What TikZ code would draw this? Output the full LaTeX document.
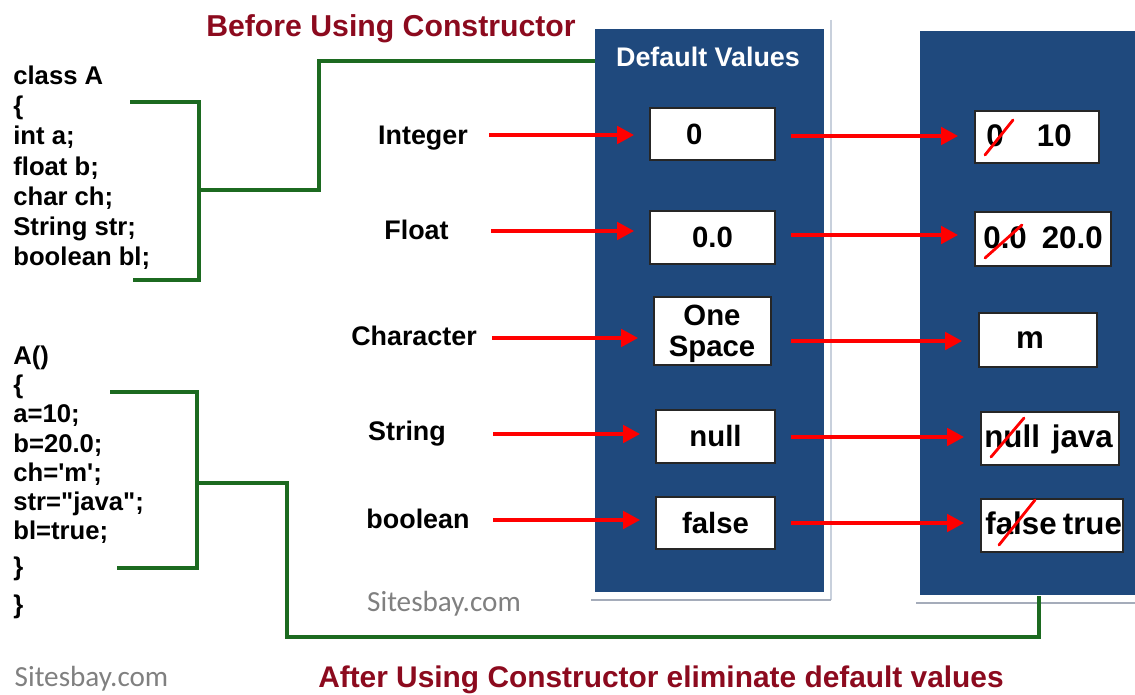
\documentclass[tikz,border=0pt]{standalone}
\usepackage{fontspec}
\setmainfont{Liberation Sans}
\newfontfamily\carl{Carlito}
\usetikzlibrary{arrows.meta}
\definecolor{boxblue}{RGB}{31,73,125}
\definecolor{lgreen}{RGB}{28,106,32}
\definecolor{tred}{RGB}{140,10,30}
\definecolor{shadeA}{RGB}{200,208,220}
\definecolor{shadeB}{RGB}{165,172,186}
\definecolor{sgray}{RGB}{128,128,128}
\tikzset{
  txt/.style={inner sep=0pt, text height=0.716em, text depth=0pt, yshift=-0.06cm},
  code/.style={txt, anchor=west, font=\bfseries\fontsize{14.6}{17}\selectfont},
  lab/.style={txt, font=\bfseries\fontsize{15.3}{18}\selectfont},
  grn/.style={draw=lgreen, line width=2.3pt},
  arr/.style={draw=red, line width=2.8pt, -{Triangle[length=0.34cm,width=0.34cm]}},
  strike/.style={draw=red, line width=1.6pt, line cap=round},
  panel/.style={fill=boxblue, draw=none, inner sep=0pt, anchor=north west},
  lbox/.style={draw=black!85, fill=white, line width=0.9pt, inner sep=0pt,
    font=\bfseries\fontsize{16.7}{17.6}\selectfont, align=center},
  rbox/.style={draw=black!85, fill=white, line width=0.9pt, inner sep=0pt},
  rval/.style={txt, anchor=west, font=\bfseries\fontsize{17.8}{20}\selectfont},
}
\begin{document}
\begin{tikzpicture}[x=0.02cm,y=-0.02cm]
\useasboundingbox (0,0) rectangle (1135,695);

% titles
\node[txt, font=\bfseries\fontsize{17.2}{20}\selectfont, text=tred] (t1) at (391,27) {Before Using Constructor};
\node[txt, font=\bfseries\fontsize{17}{20}\selectfont, text=tred] (t2) at (661,678) {After Using Constructor eliminate default values};

% code block 1
\node[code] (c1) at (13,75) {class A};
\node[code] (c2) at (13,105) {\{};
\node[code] (c3) at (13,135) {int a;};
\node[code] (c4) at (13,166) {float b;};
\node[code] (c5) at (13,196) {char ch;};
\node[code] (c6) at (13,226) {String str;};
\node[code] (c7) at (13,256) {boolean bl;};

% code block 2
\node[code] (d1) at (13,355) {A()};
\node[code] (d2) at (13,384) {\{};
\node[code] (d3) at (13,413) {a=10;};
\node[code] (d4) at (13,443) {b=20.0;};
\node[code] (d5) at (13,472) {ch=\textquotesingle m\textquotesingle;};
\node[code] (d6) at (13,501) {str=\textquotedbl java\textquotedbl;};
\node[code] (d7) at (13,530) {bl=true;};
\node[code] (d8) at (13,566) {\}};
\node[code] (d9) at (13,604) {\}};

% watermarks
\node[txt, font=\carl\fontsize{16.6}{19}\selectfont, text=sgray] (w1) at (91.5,677) {Sitesbay.com};
\node[txt, font=\carl\fontsize{16.6}{19}\selectfont, text=sgray] (w2) at (444,602) {Sitesbay.com};

% panel shadows
\draw[shadeA, line width=1.4pt] (831,20) -- (831,600);
\draw[shadeB, line width=1.6pt] (591,600) -- (831,600);
\draw[shadeB, line width=1.6pt] (916,603) -- (1135,603);

% panels
\node[panel, minimum width=4.58cm, minimum height=11.26cm] (lb) at (595,29) {};
\node[panel, minimum width=4.4cm, minimum height=11.28cm] (rb) at (920,31) {};
\node[txt, font=\bfseries\fontsize{15.3}{18}\selectfont, text=white] (dv) at (708,57) {Default Values};

% labels
\node[lab] (l1) at (423,135) {Integer};
\node[lab] (l2) at (416.5,230) {Float};
\node[lab] (l3) at (414,336) {Character};
\node[lab] (l4) at (407,431) {String};
\node[lab] (l5) at (418,519) {boolean};

% default value boxes
\node[lbox, minimum width=2.5cm, minimum height=1.04cm] (v1) at (712.5,134) {0\hspace{1.25em}};
\node[lbox, minimum width=2.5cm, minimum height=1.06cm] (v2) at (712.5,237.5) {0.0};
\node[lbox, minimum width=2.34cm, minimum height=1.36cm] (v3) at (712.5,331) {};
\node[inner sep=0pt, font=\bfseries\fontsize{16.7}{17.6}\selectfont, align=center] (v3t) at (712,334) {One\\Space};
\node[lbox, minimum width=2.38cm, minimum height=1.06cm] (v4) at (715.5,436.5) {null};
\node[lbox, minimum width=2.38cm, minimum height=1.04cm] (v5) at (715.5,523) {false};

% new value boxes
\node[rbox, minimum width=2.48cm, minimum height=1.04cm] (r1) at (1037,137) {};
\node[rbox, minimum width=2.72cm, minimum height=1.08cm] (r2) at (1043,239) {};
\node[rbox, minimum width=2.36cm, minimum height=1.08cm] (r3) at (1038,340) {};
\node[rbox, minimum width=2.76cm, minimum height=1.06cm] (r4) at (1050,438.5) {};
\node[rbox, minimum width=2.84cm, minimum height=1.06cm] (r5) at (1052,525.5) {};
\node[rval] (r1t) at (986,137) {0\hspace{1.06em}10};
\node[rval] (r2t) at (983,239) {0.0\hspace{0.48em}20.0};
\node[rval, anchor=center] (r3t) at (1030,339) {m};
\node[rval] (r4t) at (984,438) {null\hspace{0.38em}java};
\node[rval] (r5t) at (985,525) {false\hspace{0.2em}true};

% strike-throughs
\draw[strike] (985,155) -- (1013,120);
\draw[strike] (985,258) -- (1022,225);
\draw[strike] (991,457) -- (1024,418);
\draw[strike] (999,545) -- (1035,500);

% left arrows
\coordinate (a1) at (489,135);
\coordinate (a2) at (491,231);
\coordinate (a3) at (492,338);
\coordinate (a4) at (493,434);
\coordinate (a5) at (493,520);
\foreach \i in {1,...,5}{
  \draw[arr, shorten >=0.3cm] (a\i) -- (a\i -| v\i.west);
}

% right arrows
\coordinate (b1) at (791,136);
\coordinate (b2) at (791,235);
\coordinate (b3) at (791,341);
\coordinate (b4) at (791,437);
\coordinate (b5) at (791,523);
\foreach \i in {1,...,5}{
  \draw[arr, shorten >=0.32cm] (b\i) -- (b\i -| r\i.west);
}

% green brackets and connectors
\coordinate (g1t) at (130,102);
\coordinate (g1b) at (133,280);
\coordinate (g1m) at (199,190);
\draw[grn] (g1t) -- (g1t -| g1m) -- (g1b -| g1m) -- (g1b);
\draw[grn] (g1m) -- (319,190) -- (319,61) -- (lb.west |- 0,61);

\coordinate (g2t) at (110,392);
\coordinate (g2b) at (117,568);
\coordinate (g2m) at (197,483);
\draw[grn] (g2t) -- (g2t -| g2m) -- (g2b -| g2m) -- (g2b);
\draw[grn] (g2m) -- (287,483) -- (287,637) -- (1039,637) -- (rb.south -| 1039,0);
\end{tikzpicture}
\end{document}
